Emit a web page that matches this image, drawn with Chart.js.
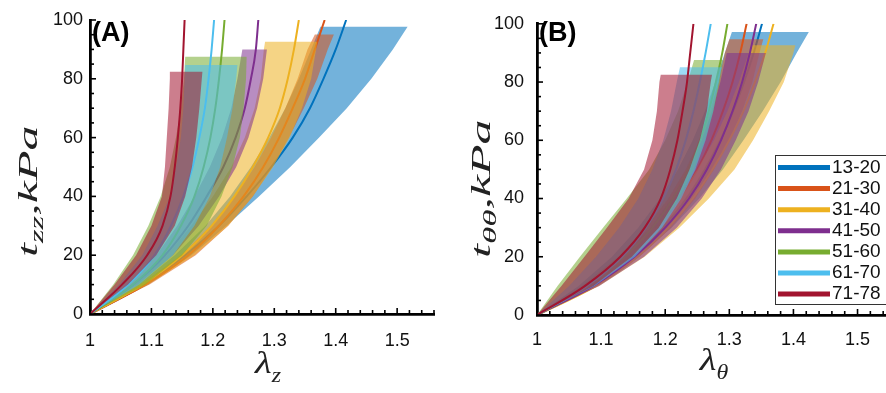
<!DOCTYPE html>
<html>
<head>
<meta charset="utf-8">
<script src="https://cdn.jsdelivr.net/npm/chart.js@4.4.0/dist/chart.umd.min.js"></script>
<style>
  html, body { margin: 0; padding: 0; background: #fff; overflow: hidden; }
  #wrap { position: relative; width: 886px; height: 393px; overflow: hidden; }
  canvas { position: absolute; top: 0; }
  #panelA { left: 0; }
  #panelB { left: 450px; }
</style>
</head>
<body>
<div id="wrap">
  <canvas id="panelA" width="450" height="393"></canvas>
  <canvas id="panelB" width="460" height="393"></canvas>
</div>
<script>
// ===== DATOS =====
const ageGroups = ['13-20', '21-30', '31-40', '41-50', '51-60', '61-70', '71-78'];
const stressLevels = [0, 10, 20, 30, 40, 50, 60, 70, 80, 90, 100];   // kPa

// (A) stretch λz at which each mean curve reaches the stress levels
const lineA = [
  [1, 1.088, 1.155, 1.21, 1.255, 1.295, 1.33, 1.358, 1.38, 1.40, 1.417],
  [1, 1.09, 1.16, 1.21, 1.25, 1.282, 1.308, 1.33, 1.35, 1.366, 1.382],
  [1, 1.085, 1.15, 1.198, 1.235, 1.265, 1.29, 1.309, 1.322, 1.332, 1.34],
  [1, 1.07, 1.122, 1.16, 1.19, 1.217, 1.237, 1.252, 1.262, 1.27, 1.274],
  [1, 1.07, 1.118, 1.148, 1.17, 1.185, 1.196, 1.204, 1.21, 1.215, 1.219],
  [1, 1.062, 1.105, 1.132, 1.152, 1.167, 1.178, 1.187, 1.193, 1.198, 1.202],
  [1, 1.052, 1.093, 1.118, 1.131, 1.138, 1.143, 1.147, 1.15, 1.152, 1.154]
];
// stress where each shaded band is cut flat
const bandTopA = [97.7, 95.1, 92.6, 90, 87.5, 84.7, 82.4];
// band edges: λ at stress levels below the cut, last value at the cut
const bandLowA = [
  [1, 1.078, 1.138, 1.188, 1.228, 1.262, 1.292, 1.318, 1.34, 1.36, 1.375],
  [1, 1.083, 1.148, 1.197, 1.235, 1.268, 1.295, 1.318, 1.338, 1.354, 1.366],
  [1, 1.072, 1.125, 1.165, 1.2, 1.23, 1.252, 1.268, 1.278, 1.283, 1.285],
  [1, 1.062, 1.108, 1.142, 1.17, 1.195, 1.215, 1.23, 1.24, 1.248],
  [1, 1.038, 1.07, 1.095, 1.115, 1.13, 1.14, 1.148, 1.153, 1.155],
  [1, 1.047, 1.085, 1.11, 1.13, 1.14, 1.148, 1.152, 1.154, 1.155],
  [1, 1.04, 1.075, 1.10, 1.117, 1.122, 1.125, 1.128, 1.13, 1.13]
];
const bandHighA = [
  [1, 1.095, 1.165, 1.222, 1.275, 1.326, 1.373, 1.418, 1.458, 1.493, 1.517],
  [1, 1.097, 1.172, 1.225, 1.265, 1.297, 1.324, 1.348, 1.37, 1.387, 1.397],
  [1, 1.095, 1.17, 1.225, 1.265, 1.298, 1.325, 1.345, 1.36, 1.368, 1.37],
  [1, 1.078, 1.135, 1.177, 1.21, 1.238, 1.258, 1.272, 1.282, 1.288],
  [1, 1.09, 1.15, 1.19, 1.214, 1.232, 1.244, 1.25, 1.254, 1.255],
  [1, 1.08, 1.135, 1.17, 1.195, 1.212, 1.223, 1.232, 1.238, 1.24],
  [1, 1.062, 1.108, 1.138, 1.155, 1.166, 1.173, 1.178, 1.182, 1.183]
];

// (B) circumferential stretch λθ
const lineB = [
  [1, 1.088, 1.15, 1.196, 1.233, 1.262, 1.286, 1.306, 1.323, 1.338, 1.351],
  [1, 1.082, 1.142, 1.187, 1.222, 1.25, 1.272, 1.29, 1.305, 1.317, 1.327],
  [1, 1.092, 1.157, 1.205, 1.243, 1.274, 1.30, 1.322, 1.34, 1.356, 1.369],
  [1, 1.088, 1.152, 1.20, 1.237, 1.265, 1.287, 1.305, 1.32, 1.332, 1.342],
  [1, 1.078, 1.137, 1.18, 1.212, 1.236, 1.254, 1.268, 1.279, 1.289, 1.297],
  [1, 1.078, 1.133, 1.17, 1.197, 1.217, 1.232, 1.244, 1.254, 1.263, 1.271],
  [1, 1.075, 1.13, 1.168, 1.193, 1.208, 1.219, 1.227, 1.234, 1.239, 1.244]
];
const bandTopB = [97.2, 94.7, 92.6, 90, 87.6, 85.1, 82.5];
const bandLowB = [
  [1, 1.065, 1.117, 1.158, 1.192, 1.22, 1.243, 1.262, 1.278, 1.293, 1.304],
  [1, 1.07, 1.127, 1.17, 1.205, 1.232, 1.253, 1.27, 1.283, 1.293, 1.30],
  [1, 1.08, 1.138, 1.183, 1.22, 1.25, 1.276, 1.297, 1.315, 1.33, 1.335],
  [1, 1.075, 1.133, 1.177, 1.21, 1.236, 1.257, 1.273, 1.286, 1.296],
  [1, 1.032, 1.067, 1.103, 1.14, 1.175, 1.20, 1.22, 1.235, 1.245],
  [1, 1.05, 1.092, 1.128, 1.158, 1.18, 1.197, 1.209, 1.218, 1.223],
  [1, 1.038, 1.074, 1.109, 1.143, 1.167, 1.18, 1.187, 1.191, 1.193]
];
const bandHighB = [
  [1, 1.09, 1.158, 1.21, 1.253, 1.29, 1.322, 1.352, 1.38, 1.405, 1.424],
  [1, 1.093, 1.16, 1.209, 1.247, 1.276, 1.30, 1.32, 1.336, 1.347, 1.353],
  [1, 1.097, 1.168, 1.222, 1.268, 1.308, 1.337, 1.362, 1.385, 1.40, 1.403],
  [1, 1.097, 1.167, 1.218, 1.257, 1.287, 1.31, 1.33, 1.345, 1.357],
  [1, 1.088, 1.148, 1.19, 1.222, 1.245, 1.262, 1.275, 1.285, 1.29],
  [1, 1.09, 1.153, 1.195, 1.225, 1.247, 1.263, 1.275, 1.284, 1.288],
  [1, 1.088, 1.148, 1.19, 1.218, 1.238, 1.254, 1.265, 1.271, 1.273]
];

// ===== ESTILO =====
const palette = [[0, 114, 189], [217, 83, 25], [237, 177, 32], [126, 47, 142],
                 [119, 172, 48], [77, 190, 238], [162, 20, 47]];
const SANS = '"Liberation Sans", Arial, Helvetica, sans-serif';
const SERIF = '"Liberation Serif", "Times New Roman", serif';
const rgb = (i, a = 1) => `rgba(${palette[i].join(',')},${a})`;
const isTenth = v => Math.abs(v * 10 - Math.round(v * 10)) < 1e-6;

// ===== PLUGINS =====
// ticks pointing inward, MATLAB style
const inwardTicks = {
  id: 'inwardTicks',
  afterDraw(chart) {
    const { ctx, chartArea: a, scales: { x, y } } = chart;
    ctx.save();
    ctx.strokeStyle = '#000';
    ctx.lineWidth = 1.6;
    x.ticks.forEach(t => {
      const px = x.getPixelForValue(t.value);
      const len = isTenth(t.value) ? 6 : 4;
      ctx.beginPath(); ctx.moveTo(px, a.bottom); ctx.lineTo(px, a.bottom - len); ctx.stroke();
    });
    y.ticks.forEach(t => {
      const py = y.getPixelForValue(t.value);
      const len = t.value % 20 === 0 ? 6 : 4;
      ctx.beginPath(); ctx.moveTo(a.left, py); ctx.lineTo(a.left + len, py); ctx.stroke();
    });
    ctx.restore();
  }
};

function drawPieces(ctx, pieces) {
  let x = 0;
  pieces.forEach(pc => {
    ctx.font = pc.font;
    ctx.fillText(pc.text, x, pc.dy || 0);
    x += ctx.measureText(pc.text).width;
  });
}
function widthOf(ctx, pieces) {
  return pieces.reduce((w, pc) => { ctx.font = pc.font; return w + ctx.measureText(pc.text).width; }, 0);
}

function titlesPlugin(p) {
  return {
    id: 'titles',
    afterDraw(chart) {
      const ctx = chart.ctx;
      ctx.save();
      ctx.fillStyle = '#000';
      ctx.textBaseline = 'alphabetic';
      ctx.textAlign = 'left';
      // letra del panel
      ctx.font = 'bold 27px ' + SANS;
      ctx.fillText(p.tag, p.tagX, p.tagY);
      // titulo eje x
      ctx.fillStyle = '#222';
      ctx.save();
      ctx.translate(p.xTitleX, p.xTitleY);
      ctx.scale(p.xStretch, 1);
      ctx.translate(-widthOf(ctx, p.xTitle) / 2, 0);
      drawPieces(ctx, p.xTitle);
      ctx.restore();
      // titulo eje y (rotado)
      ctx.save();
      ctx.translate(p.yTitleX, p.yTitleY);
      ctx.rotate(-Math.PI / 2);
      ctx.scale(p.yStretch, 1);
      drawPieces(ctx, p.yTitle);
      ctx.restore();
      ctx.restore();
    }
  };
}

const legendBox = {
  id: 'legendBox',
  afterDraw(chart) {
    const ctx = chart.ctx;
    ctx.save();
    ctx.fillStyle = '#fff';
    ctx.fillRect(325, 155, 130, 149);
    ctx.strokeStyle = '#333';
    ctx.lineWidth = 1;
    ctx.strokeRect(325.5, 155.5, 130, 149);
    ctx.font = '19px ' + SANS;
    ctx.textBaseline = 'middle';
    ageGroups.forEach((g, i) => {
      const y = 167.5 + i * 21.1;
      ctx.strokeStyle = rgb(i);
      ctx.lineWidth = 5;
      ctx.beginPath(); ctx.moveTo(328, y); ctx.lineTo(380, y); ctx.stroke();
      ctx.fillStyle = '#111';
      ctx.fillText(g, 382, y);
    });
    ctx.restore();
  }
};

// ===== GRAFICOS =====
function makePanel(canvasId, p) {
  const datasets = [];
  ageGroups.forEach((g, i) => {
    // curva media, luego su banda encima (orden de dibujo: mayor primero)
    datasets.push({
      label: g,
      data: stressLevels.map((s, k) => ({ x: p.line[i][k], y: s })),
      showLine: true, borderColor: rgb(i), borderWidth: 2, pointRadius: 0,
      cubicInterpolationMode: 'monotone', fill: false, order: 100 - 2 * i
    });
    const top = p.top[i];
    const lv = stressLevels.filter(s => s < top).concat([top]);
    const low = lv.map((s, k) => ({ x: p.low[i][k], y: s }));
    const high = lv.map((s, k) => ({ x: p.high[i][k], y: s })).reverse();
    datasets.push({
      label: g + ' SD',
      data: low.concat(high),
      showLine: true, borderWidth: 0, borderColor: 'rgba(0,0,0,0)', pointRadius: 0,
      tension: 0, fill: 'shape', backgroundColor: rgb(i, 0.55), order: 99 - 2 * i
    });
  });

  const tickFont = { family: SANS, size: 18 };
  return new Chart(document.getElementById(canvasId), {
    type: 'scatter',
    data: { datasets },
    options: {
      responsive: false, animation: false, events: [], devicePixelRatio: 1,
      layout: { padding: { top: 20, right: 8, left: 0, bottom: 0 } },
      plugins: { legend: { display: false }, tooltip: { enabled: false } },
      scales: {
        x: {
          type: 'linear', min: 1, max: 1.56,
          ticks: {
            stepSize: 0.02, autoSkip: false, maxRotation: 0, padding: p.xPad,
            color: '#111', font: tickFont,
            callback: v => isTenth(v) ? String(Math.round(v * 10) / 10) : ''
          },
          grid: { display: false, drawTicks: false },
          border: { color: '#000', width: 2.8 },
          afterFit: s => { s.height = p.xH; }
        },
        y: {
          min: 0, max: 100,
          ticks: {
            stepSize: 5, autoSkip: false, padding: p.yPad, color: '#111', font: tickFont,
            callback: v => v % 20 === 0 ? String(v) : ''
          },
          grid: { display: false, drawTicks: false },
          border: { color: '#000', width: 2.8 },
          afterFit: s => { s.width = p.yW; }
        }
      }
    },
    plugins: p.plugins
  });
}

const it = size => `italic ${size}px ${SERIF}`;

makePanel('panelA', {
  line: lineA, top: bandTopA, low: bandLowA, high: bandHighA,
  xPad: 16, yPad: 7, xH: 79, yW: 90,
  plugins: [inwardTicks, titlesPlugin({
    tag: '(A)', tagX: 92, tagY: 41,
    xTitle: [{ text: 'λ', font: it(32) }, { text: 'z', font: it(20), dy: 9 }],
    xTitleX: 268, xTitleY: 373, xStretch: 1.2,
    yTitle: [{ text: 't', font: it(27) }, { text: 'zz', font: it(19), dy: 6 }, { text: ',kPa', font: it(27) }],
    yTitleX: 37, yTitleY: 257, yStretch: 1.85
  })]
});

makePanel('panelB', {
  line: lineB, top: bandTopB, low: bandLowB, high: bandHighB,
  xPad: 14, yPad: 13, xH: 78, yW: 87,
  plugins: [inwardTicks, titlesPlugin({
    tag: '(B)', tagX: 89, tagY: 41,
    xTitle: [{ text: 'λ', font: it(32) }, { text: 'θ', font: it(20), dy: 9 }],
    xTitleX: 264, xTitleY: 370, xStretch: 1.2,
    yTitle: [{ text: 't', font: it(27) }, { text: 'θθ', font: it(19), dy: 6 }, { text: ',kPa', font: it(27) }],
    yTitleX: 40, yTitleY: 258, yStretch: 1.85
  }), legendBox]
});
</script>
</body>
</html>
